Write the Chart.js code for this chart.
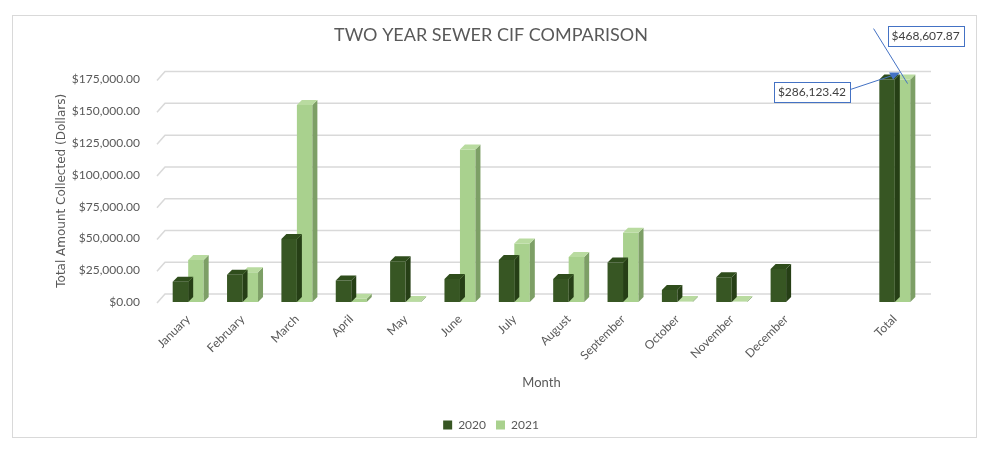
<!DOCTYPE html>
<html>
<head>
<meta charset="utf-8">
<script src="https://cdn.jsdelivr.net/npm/chart.js@4/dist/chart.umd.min.js"></script>
<style>
  html, body { margin: 0; padding: 0; background: #fff; }
  #wrap { width: 982px; height: 450px; }
</style>
</head>
<body>
<div id="wrap"><canvas id="cifChart" width="982" height="450"></canvas></div>
<script>
  // data
  const months = ['January', 'February', 'March', 'April', 'May', 'June', 'July', 'August',
    'September', 'October', 'November', 'December', '', 'Total'];
  const values2020 = [16000, 21500, 49500, 17000, 32000, 18000, 33000, 18000, 31000, 9500, 19500, 26000, null, 286123.42];
  const values2021 = [33000, 23500, 155000, 2500, 500, 120000, 46000, 35500, 54500, 400, 300, null, null, 468607.87];
  const yTicks = [0, 25000, 50000, 75000, 100000, 125000, 150000, 175000];

  const textColor = '#595959';
  const fmt = v => '$' + v.toLocaleString('en-US', { minimumFractionDigits: 2, maximumFractionDigits: 2 });

  // frame round the whole chart
  const framePlugin = {
    id: 'frame',
    beforeDraw(chart) {
      const ctx = chart.ctx;
      ctx.save();
      ctx.fillStyle = '#fff';
      ctx.fillRect(0, 0, chart.width, chart.height);
      ctx.strokeStyle = '#d9d9d9';
      ctx.lineWidth = 1;
      ctx.strokeRect(12.5, 15.5, 964, 422);
      ctx.restore();
    }
  };

  // back wall gridlines, shifted like the 3d wall
  const wallGrid = {
    id: 'wallGrid',
    beforeDatasetsDraw(chart) {
      const { ctx, chartArea } = chart;
      const y = chart.scales.y;
      ctx.save();
      ctx.strokeStyle = '#d9d9d9';
      ctx.lineWidth = 1.5;
      yTicks.forEach(t => {
        const py = y.getPixelForValue(t);
        ctx.beginPath();
        ctx.moveTo(chartArea.left - 4, py + 1);
        ctx.lineTo(chartArea.left + 4, py - 8);
        ctx.lineTo(chartArea.right + 9, py - 8);
        ctx.stroke();
      });
      ctx.restore();
    }
  };

  // top and side faces for each bar
  const faceColors = [
    { top: '#2f4d1c', side: '#263f16' },
    { top: '#b9dba0', side: '#7d9f66' }
  ];
  const bar3d = {
    id: 'bar3d',
    afterDatasetDraw(chart, args) {
      const { ctx, chartArea } = chart;
      const d = 5;
      const c = faceColors[args.index];
      ctx.save();
      args.meta.data.forEach((el, i) => {
        const v = chart.data.datasets[args.index].data[i];
        if (v === null || v === undefined) return;
        const p = el.getProps(['x', 'y', 'width', 'base'], true);
        const l = p.x - p.width / 2, r = p.x + p.width / 2;
        const top = Math.max(Math.min(p.y, p.base - 1), chartArea.top);
        ctx.fillStyle = c.side;
        ctx.beginPath();
        ctx.moveTo(r, top); ctx.lineTo(r + d, top - d);
        ctx.lineTo(r + d, p.base - d); ctx.lineTo(r, p.base);
        ctx.closePath(); ctx.fill();
        ctx.fillStyle = c.top;
        ctx.beginPath();
        ctx.moveTo(l, top); ctx.lineTo(r, top);
        ctx.lineTo(r + d, top - d); ctx.lineTo(l + d, top - d);
        ctx.closePath(); ctx.fill();
      });
      ctx.restore();
    }
  };

  // callouts for the clipped total bars
  function callout(ctx, text, x, cy) {
    ctx.font = '12px Lato';
    const w = ctx.measureText(text).width + 8;
    ctx.fillStyle = '#fff';
    ctx.fillRect(x, cy - 10, w, 20);
    ctx.strokeStyle = '#4472c4';
    ctx.lineWidth = 1;
    ctx.strokeRect(Math.round(x) + 0.5, Math.round(cy - 10) + 0.5, Math.round(w), 20);
    ctx.fillStyle = '#404040';
    ctx.textBaseline = 'middle';
    ctx.textAlign = 'left';
    ctx.fillText(text, x + 4, cy + 1);
    return w;
  }
  const totalLabels = {
    id: 'totalLabels',
    afterDraw(chart) {
      const { ctx, chartArea } = chart;
      const last = months.length - 1;
      const e0 = chart.getDatasetMeta(0).data[last];
      const e1 = chart.getDatasetMeta(1).data[last];
      ctx.save();
      // 2020
      ctx.font = '12px Lato';
      const t0 = fmt(values2020[last]);
      const w0 = ctx.measureText(t0).width + 8;
      const bx0 = e0.x - 37 - w0;
      const by0 = chartArea.top + 12;
      const tipX = e0.x + 11, tipY = chartArea.top - 6;
      ctx.strokeStyle = '#4472c4';
      ctx.beginPath();
      ctx.moveTo(bx0 + w0, by0 - 2);
      ctx.lineTo(tipX, tipY);
      ctx.stroke();
      ctx.fillStyle = '#4472c4';
      ctx.beginPath();
      ctx.moveTo(tipX + 2, tipY - 1);
      ctx.lineTo(tipX - 9, tipY - 1);
      ctx.lineTo(tipX - 5, tipY + 6);
      ctx.closePath();
      ctx.fill();
      callout(ctx, t0, bx0, by0);
      // 2021
      ctx.strokeStyle = '#4472c4';
      ctx.beginPath();
      ctx.moveTo(e1.x - 29, chartArea.top - 51);
      ctx.lineTo(e1.x + 5, chartArea.top + 4);
      ctx.stroke();
      callout(ctx, fmt(values2021[last]), e1.x - 15, chartArea.top - 44);
      ctx.restore();
    }
  };

  const data = {
    labels: months,
    datasets: [
      { label: '2020', data: values2020, backgroundColor: '#375623', borderWidth: 0 },
      { label: '2021', data: values2021, backgroundColor: '#a9d18e', borderWidth: 0 }
    ]
  };

  const config = {
    type: 'bar',
    data: data,
    options: {
      responsive: false,
      animation: false,
      layout: { padding: { left: 40, right: 40, top: 0, bottom: 9 } },
      datasets: { bar: { categoryPercentage: 0.57, barPercentage: 1 } },
      plugins: {
        title: {
          display: true,
          text: 'TWO YEAR SEWER CIF COMPARISON',
          color: textColor,
          font: { family: 'Lato', size: 18, weight: 'normal' },
          padding: { top: 24, bottom: 34 }
        },
        legend: {
          position: 'bottom',
          labels: {
            color: textColor,
            boxWidth: 9,
            boxHeight: 9,
            padding: 10,
            font: { family: 'Lato', size: 12 }
          }
        },
        tooltip: { enabled: false }
      },
      scales: {
        x: {
          grid: { display: false },
          border: { display: false },
          ticks: {
            color: textColor,
            font: { family: 'Lato', size: 12 },
            maxRotation: 45,
            minRotation: 45,
            padding: 2,
            autoSkip: false
          },
          title: {
            display: true,
            text: 'Month',
            color: textColor,
            font: { family: 'Lato', size: 13 },
            padding: { top: 4, bottom: 18 }
          },
          afterFit(scale) { scale.height = 107; }
        },
        y: {
          min: 0,
          max: 175000,
          grid: { display: false },
          border: { display: false },
          ticks: {
            stepSize: 25000,
            color: textColor,
            padding: 13,
            font: { family: 'Lato', size: 12 },
            callback: v => fmt(v)
          },
          title: {
            display: true,
            text: 'Total Amount Collected (Dollars)',
            color: textColor,
            font: { family: 'DejaVu Sans', size: 12 },
            padding: { top: 15, bottom: 0 }
          },
          afterFit(scale) { scale.width = 121; }
        },
        // empty right strip so the title and legend sit in the middle of the frame
        yPad: {
          position: 'right',
          grid: { display: false },
          border: { display: false },
          ticks: { display: false },
          afterFit(scale) { scale.width = 20; }
        }
      }
    },
    plugins: [framePlugin, wallGrid, bar3d, totalLabels]
  };

  const cifChart = new Chart(document.getElementById('cifChart'), config);
</script>
</body>
</html>
